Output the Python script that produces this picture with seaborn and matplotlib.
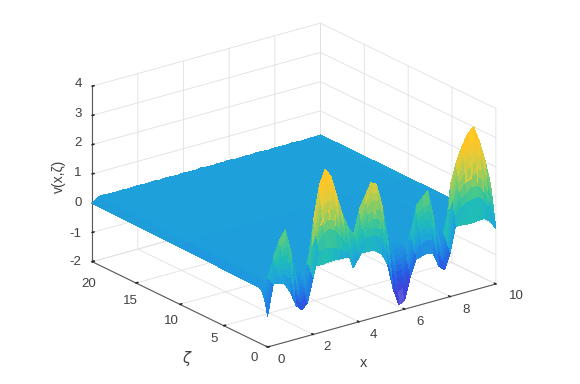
import matplotlib
matplotlib.use('Agg')
import matplotlib.pyplot as plt
import seaborn as sns
import numpy as np

x_vals = [0, .25, .5, .75, 1, 1.25, 1.5, 1.75, 2, 2.25, 2.5, 2.75, 3, 3.25, 3.5, 3.75, 4, 4.25, 4.5, 4.75, 5,
          5.25, 5.5, 5.75, 6, 6.25, 6.5, 6.75, 7, 7.25, 7.5, 7.75, 8, 8.25, 8.5, 8.75, 9, 9.25, 9.5, 9.75, 10]
zeta_vals = [0, .15, .225, .3, .375, .45, .525, .6, .8, 1.0, 10, 20]
x_ticks = [0, 2, 4, 6, 8, 10]
zeta_ticks = [0, 5, 10, 15, 20]
v_ticks = [-2, -1, 0, 1, 2, 3, 4]

# v(x, zeta), one list per zeta
v_0 = [-.95, .1, .05, 0, -.35, -.85, -1.06, -.85, -.05, .8, .85, .82, .75, .65, .5, -.1, .2, .5, .38, .25, .1,
       -.3, -1.2, -1.8, -1.7, -.95, -.4, -.35, -.3, -.37, -.85, -1.03, -.5, .43, .45, .45, .45, .43, .35, .2, -.12]
v_1 = [-.7, .12, .25, .35, .15, -.55, -.8, -.65, .05, 1.05, 1.35, 1.45, 1.35, 1.1, .8, .2, .35, .8, .8, .8, .65,
       .15, -.8, -1.35, -1.25, -.7, -.2, .05, .15, .1, -.45, -.75, -.35, .75, .95, 1.05, 1.1, 1.15, 1.0, .7, .25]
v_2 = [-.6, .14, .38, .5, .42, -.32, -.68, -.58, .1, 1.2, 1.58, 1.78, 1.65, 1.32, .98, .35, .45, .95, 1.05, 1.05, .95,
       .4, -.6, -1.12, -1.08, -.6, -.1, .22, .35, .32, -.28, -.65, -.3, .9, 1.22, 1.35, 1.5, 1.5, 1.35, .95, .42]
v_3 = [-.5, .15, .5, .7, .65, -.1, -.55, -.5, .15, 1.3, 1.85, 2.05, 2.0, 1.55, 1.1, .5, .55, 1.1, 1.25, 1.35, 1.25,
       .65, -.4, -.9, -.9, -.5, 0, .4, .55, .55, -.1, -.55, -.25, 1.05, 1.45, 1.7, 1.85, 1.9, 1.65, 1.2, .6]
v_4 = [-.42, .18, .6, .88, .95, .15, -.42, -.42, .22, 1.42, 2.12, 2.35, 2.32, 1.75, 1.28, .65, .65, 1.22, 1.5, 1.6, 1.58,
       .88, -.2, -.7, -.7, -.4, .1, .6, .8, .78, .1, -.42, -.18, 1.22, 1.72, 2.0, 2.22, 2.3, 1.95, 1.48, .78]
v_5 = [-.35, .2, .7, 1.05, 1.2, .4, -.3, -.35, .3, 1.55, 2.35, 2.75, 2.6, 2.0, 1.4, .85, .75, 1.4, 1.7, 1.95, 1.85,
       1.15, 0, -.5, -.5, -.3, .2, .8, 1.0, 1.05, .3, -.3, -.1, 1.4, 1.95, 2.35, 2.55, 2.65, 2.3, 1.7, .95]
v_6 = [-.28, .2, .8, 1.22, 1.42, .65, -.2, -.28, .35, 1.68, 2.58, 3.02, 2.92, 2.2, 1.55, 1.02, .82, 1.55, 1.9, 2.2, 2.12,
       1.38, .2, -.35, -.35, -.2, .3, 1.0, 1.2, 1.28, .5, -.2, -.05, 1.55, 2.18, 2.62, 2.88, 3.0, 2.6, 1.95, 1.12]
v_7 = [-.2, .2, .9, 1.4, 1.7, .9, -.1, -.2, .4, 1.8, 2.9, 3.4, 3.1, 2.4, 1.7, 1.2, .9, 1.7, 2.1, 2.5, 2.4,
       1.6, .4, -.2, -.2, -.1, .4, 1.3, 1.5, 1.7, .7, -.1, 0, 1.7, 2.4, 2.9, 3.25, 3.45, 2.9, 2.2, 1.3]
v_8 = [-.15, .15, .45, .7, .8, .5, 0, -.05, .25, .9, 1.4, 1.6, 1.6, 1.2, .9, .6, .5, .85, 1.05, 1.2, 1.2,
       .8, .2, -.05, -.05, 0, .2, .6, .7, .75, .35, 0, .05, .85, 1.2, 1.45, 1.6, 1.65, 1.45, 1.1, .65]
v_9 = [-.1, .05, .1, .08, .1, .12, .08, .1, .1, .12, .1, .08, .1, .12, .1, .1, .08, .12, .1, .1, .08,
       .1, .12, .1, .08, .1, .1, .12, .08, .1, .1, .12, .1, .08, .1, .12, .1, .08, .1, .12, .15]
v_10 = [-.05, .08, .12, .1, .08, .12, .1, .1, .12, .08, .1, .1, .12, .08, .1, .12, .1, .08, .1, .12, .1,
        .08, .1, .12, .1, .1, .08, .12, .1, .1, .12, .08, .1, .1, .12, .1, .08, .12, .1, .1, .18]
v_11 = [0, .15, .18, .16, .15, .17, .15, .16, .18, .15, .16, .17, .15, .18, .16, .15, .17, .16, .15, .18, .16,
        .15, .17, .16, .18, .15, .16, .17, .15, .18, .16, .15, .17, .16, .15, .18, .16, .15, .17, .16, .18]

surface_colors = ['#8f86dc', '#4440d8', '#2a58e2', '#1f86e4', '#1ea8d8', '#20bcb8', '#48c88c', '#98cc5c', '#dccc3c', '#fdc428', '#ffd21e']

sns.set_theme(style='white')
plt.rcParams['font.family'] = ['Liberation Sans', 'DejaVu Sans']

X, Y = np.meshgrid(x_vals, zeta_vals)
Z = np.array([v_0, v_1, v_2, v_3, v_4, v_5, v_6, v_7, v_8, v_9, v_10, v_11])

fig = plt.figure(figsize=(5.8, 3.84), dpi=100)
ax = fig.add_axes([-0.002, 0.0045, 1, 1], projection='3d', proj_type='ortho')
ax.view_init(elev=21.5, azim=-127)
ax.set_box_aspect((1, 1.02, 0.66), zoom=1.137)

cmap = sns.blend_palette(surface_colors, n_colors=256, as_cmap=True)
surf = ax.plot_surface(X, Y, Z, cmap=cmap, vmin=-1.9, vmax=3.45, rstride=1, cstride=1, linewidth=0, antialiased=False, shade=False)
surf.set_clip_on(False)

ax.set_xlim(0, 10)
ax.set_ylim(0, 20)
ax.set_zlim(-2, 4)
ax.set_xticks(x_ticks)
ax.set_yticks(zeta_ticks)
ax.set_zticks(v_ticks)
ax.set_xticklabels([])
ax.set_yticklabels([])
ax.set_zticklabels([])

for axis in [ax.xaxis, ax.yaxis, ax.zaxis]:
    axis.set_pane_color((1, 1, 1, 0))
    axis.pane.set_edgecolor('none')
    axis.line.set_color('0.35')
    axis.line.set_linewidth(0.8)
    axis._axinfo['grid'].update(color='0.88', linewidth=0.6)
    axis._axinfo['tick'].update(inward_factor=0, outward_factor=0.1)

# tick labels sit a bit off the 3d defaults, so place them by pixel
def label_at(px, py, s, **kw):
    fig.text(px / 580, 1 - py / 384, s, color='0.25', ha='center', va='center', **kw)

for t, px, py in zip(x_ticks, [281, 327, 373, 420, 466, 516], [360, 347, 335, 322, 310, 296]):
    label_at(px, py, str(t), fontsize=9.5)
for t, px, py in zip(zeta_ticks, [254, 214, 171, 130, 89], [358, 339, 321, 301, 284]):
    label_at(px, py, str(t), fontsize=9.5)
for t, px, py in zip(v_ticks, [75, 75, 78, 78, 78, 78, 78], [262, 234, 203, 173, 143, 114, 84]):
    label_at(px, py, str(t), fontsize=9.5)

label_at(364, 363, 'x', fontsize=10.5)
label_at(186, 359, 'ζ', fontsize=10.5, style='italic', family='DejaVu Sans')
label_at(59, 176, 'v(x,ζ)', fontsize=10, rotation=90)

plt.savefig('out.png', dpi=100)
